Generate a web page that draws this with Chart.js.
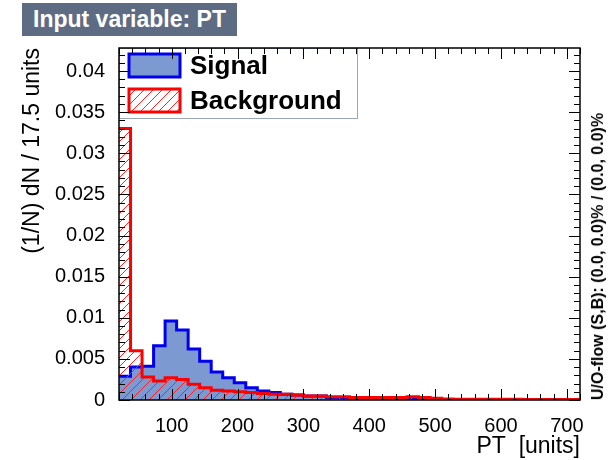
<!DOCTYPE html>
<html>
<head>
<meta charset="utf-8">
<script src="https://cdn.jsdelivr.net/npm/chart.js@4.4.1/dist/chart.umd.min.js"></script>
<style>
  body { margin: 0; background: #fff; }
  #wrap { position: relative; width: 609px; height: 460px; font-family: "Liberation Sans", Arial, sans-serif; }
  #title { position: absolute; left: 22px; top: 3px; width: 215px; height: 33px; background: #5d6c83;
           color: #fff; font-weight: bold; font-size: 23px; line-height: 33px; text-align: center; }
  .leg { position: absolute; left: 190px; font-weight: bold; font-size: 26px; line-height: 28px; color: #000; }
  #uoflow { position: absolute; left: 589px; bottom: 60px; writing-mode: vertical-rl; transform: rotate(180deg);
            font-weight: bold; font-size: 16px; color: #000; white-space: nowrap; }
</style>
</head>
<body>
<div id="wrap">
  <canvas id="myChart" width="609" height="460"></canvas>
  <div id="title">Input variable: PT</div>
  <div class="leg" style="top:51px">Signal</div>
  <div class="leg" style="top:86px">Background</div>
  <div id="uoflow">U/O-flow (S,B): (0.0, 0.0)% / (0.0, 0.0)%</div>
</div>
<script>
  // histogram: 40 bins of 17.5 units starting at 20
  const xMin = 20;
  const binWidth = 17.5;
  const signal = [
    0.0029, 0.0040, 0.0041, 0.0066, 0.0096, 0.0085, 0.0062, 0.0047, 0.0034, 0.0027,
    0.0021, 0.0015, 0.0011, 0.0009, 0.0007, 0.0006, 0.0005, 0.0005, 0.0003, 0.0003,
    0.0002, 0.0002, 0.0002, 0.0001, 0.0001, 0.0001, 0.0001, 0.0001, 0.0001, 0.00005,
    0.00005, 0.00005, 0.00005, 0.00003, 0.00003, 0.00003, 0.00002, 0.00002, 0.00002, 0.00002
  ];
  const background = [
    0.0330, 0.0060, 0.0028, 0.0023, 0.0027, 0.0025, 0.0019, 0.0015, 0.0012, 0.0011,
    0.0010, 0.0009, 0.0008, 0.0007, 0.0007, 0.0006, 0.0005, 0.0005, 0.0004, 0.0004,
    0.0003, 0.0003, 0.0003, 0.0003, 0.0003, 0.0004, 0.0003, 0.0002, 0.0001, 0.0001,
    0.0001, 0.0001, 0.00008, 0.00008, 0.00008, 0.00006, 0.00006, 0.00006, 0.00005, 0.00005
  ];
  const xTickLabels = ['100', '200', '300', '400', '500', '600', '700'];
  const yTickLabels = ['0', '0.005', '0.01', '0.015', '0.02', '0.025', '0.03', '0.035', '0.04'];

  const font = '"Liberation Sans", Arial, sans-serif';

  function steps(vals) {
    const pts = vals.map((v, i) => ({ x: xMin + i * binWidth, y: v }));
    pts.push({ x: xMin + vals.length * binWidth, y: vals[vals.length - 1] });
    return pts;
  }

  const ctx = document.getElementById('myChart');

  // red "///" hatch like ROOT fill style 3554
  const pc = document.createElement('canvas');
  pc.width = 9; pc.height = 9;
  const p = pc.getContext('2d');
  p.strokeStyle = '#ff2020';
  p.lineWidth = 1;
  p.beginPath();
  p.moveTo(0, 9); p.lineTo(9, 0);
  p.moveTo(-2, 2); p.lineTo(2, -2);
  p.moveTo(7, 11); p.lineTo(11, 7);
  p.stroke();
  const hatch = ctx.getContext('2d').createPattern(pc, 'repeat');

  const framePlugin = {
    id: 'frame',
    afterDatasetsDraw(chart) {
      const c = chart.ctx;
      const a = chart.chartArea;
      const x = chart.scales.x, y = chart.scales.y;
      c.save();
      // legend box
      c.fillStyle = '#fff';
      c.fillRect(a.left, a.top, 238, 70);
      c.strokeStyle = '#9aa7b8';
      c.lineWidth = 1;
      c.strokeRect(a.left + 0.5, a.top + 0.5, 238, 70);
      c.fillStyle = '#7d99d1';
      c.fillRect(129, 54, 51, 23);
      c.strokeStyle = '#0000ee'; c.lineWidth = 3;
      c.strokeRect(129, 54, 51, 23);
      c.fillStyle = hatch;
      c.fillRect(129, 89, 51, 23);
      c.strokeStyle = '#ff0000';
      c.strokeRect(129, 89, 51, 23);

      // frame and inside ticks
      c.strokeStyle = '#000';
      c.lineWidth = 1.5;
      c.strokeRect(a.left, a.top, a.right - a.left, a.bottom - a.top);
      c.lineWidth = 1;
      c.beginPath();
      for (let v = 20; v <= 720; v += 20) {
        const px = Math.round(x.getPixelForValue(v)) + 0.5;
        const len = v % 100 === 0 ? 11 : 6;
        c.moveTo(px, a.bottom); c.lineTo(px, a.bottom - len);
        c.moveTo(px, a.top); c.lineTo(px, a.top + len);
      }
      for (let k = 0; k * 0.001 <= y.max; k++) {
        const py = Math.round(y.getPixelForValue(k * 0.001)) + 0.5;
        const len = k % 5 === 0 ? 11 : 6;
        c.moveTo(a.left, py); c.lineTo(a.left + len, py);
        c.moveTo(a.right, py); c.lineTo(a.right - len, py);
      }
      c.stroke();
      c.restore();
    }
  };

  new Chart(ctx, {
    type: 'line',
    data: {
      datasets: [{
        label: 'Signal',
        data: steps(signal),
        stepped: 'before',
        borderColor: '#0000ee',
        borderWidth: 3,
        backgroundColor: '#7d99d1',
        fill: 'origin',
        pointRadius: 0,
        order: 1,
      }, {
        label: 'Background',
        data: steps(background),
        stepped: 'before',
        borderColor: '#ff0000',
        borderWidth: 3,
        backgroundColor: hatch,
        fill: 'origin',
        pointRadius: 0,
        order: 0,
      }],
    },
    options: {
      responsive: false,
      animation: false,
      layout: { padding: { top: 48, right: 29, left: 0, bottom: 0 } },
      plugins: { legend: { display: false }, tooltip: { enabled: false } },
      scales: {
        x: {
          type: 'linear',
          min: 20,
          max: 720,
          grid: { display: false },
          border: { display: false },
          afterBuildTicks: s => { s.ticks = xTickLabels.map(t => ({ value: Number(t) })); },
          afterFit: s => { s.height = 60; },
          ticks: {
            callback: (v, i) => xTickLabels[i],
            font: { size: 20, family: font },
            color: '#000',
            padding: 6,
            maxRotation: 0,
            autoSkip: false,
          },
          title: {
            display: true,
            text: 'PT  [units]',
            align: 'end',
            color: '#000',
            font: { size: 23, family: font },
            padding: { top: 0, bottom: 0 },
          },
        },
        y: {
          min: 0,
          max: 0.0428,
          grid: { display: false },
          border: { display: false },
          afterBuildTicks: s => { s.ticks = yTickLabels.map(t => ({ value: Number(t) })); },
          afterFit: s => { s.width = 119; },
          ticks: {
            callback: (v, i) => yTickLabels[i],
            font: { size: 20, family: font },
            color: '#000',
            padding: 6,
            autoSkip: false,
          },
          title: {
            display: true,
            text: '(1/N) dN / 17.5 units',
            align: 'end',
            color: '#000',
            font: { size: 23, family: font },
            padding: { top: 19, bottom: 0 },
          },
        },
      },
    },
    plugins: [framePlugin],
  });
</script>
</body>
</html>
